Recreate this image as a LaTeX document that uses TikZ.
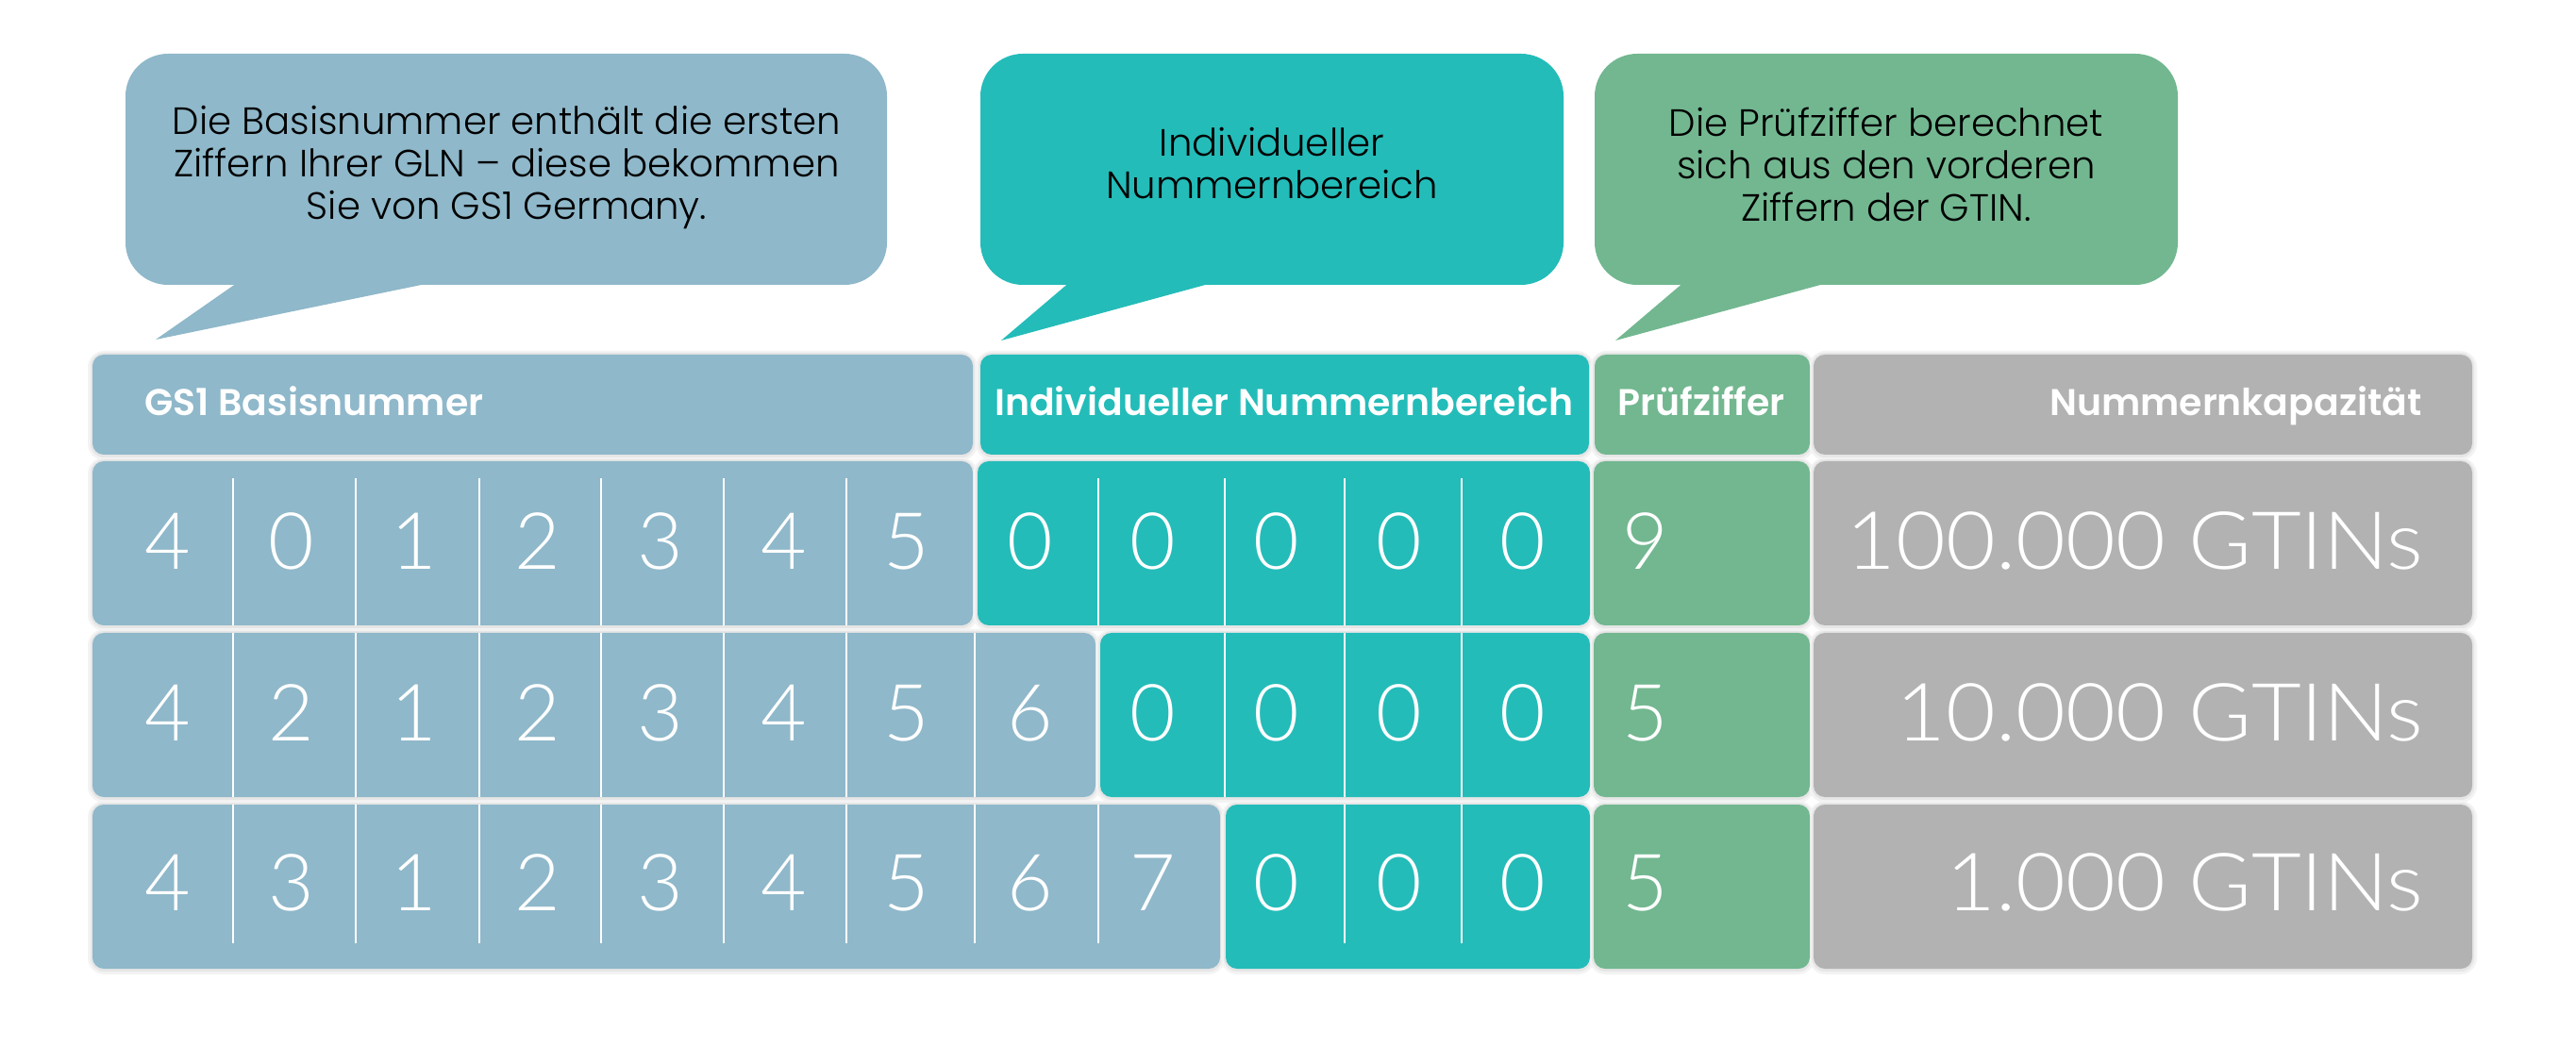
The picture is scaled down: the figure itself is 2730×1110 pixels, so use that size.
\documentclass[tikz,border=0pt]{standalone}
\usepackage{fontspec}
\setmainfont{Lato}
\IfFontExistsTF{Lato Light}{\newfontfamily\lightf{Lato Light}}{\newfontfamily\lightf{Lato}}
\IfFontExistsTF{Lato Light}{\newfontfamily\capf{Lato Light}[FakeStretch=1.07]}{\newfontfamily\capf{Lato}[FakeStretch=1.07]}
\IfFontExistsTF{Poppins Light}{\newfontfamily\bubf{Poppins Light}}{\newfontfamily\bubf{Lato}[FakeStretch=1.16]}
\IfFontExistsTF{Poppins SemiBold}{\newfontfamily\hdf{Poppins SemiBold}}{\newfontfamily\hdf{Lato Bold}[FakeStretch=1.18]}
\definecolor{gsblue}{HTML}{8FB8CA}
\definecolor{gsteal}{HTML}{23BCB9}
\definecolor{gsgreen}{HTML}{72B790}
\definecolor{gsgray}{HTML}{B1B2B1}
\definecolor{shA}{HTML}{F3F3F3}
\definecolor{shB}{HTML}{E6E6E6}
\newcommand\boxshadow[4]{%
  \fill[shA, rounded corners=5pt] (#1-5,#2-4) rectangle (#3+5,#4+6);
  \fill[shB, rounded corners=4pt] (#1-2,#2-2) rectangle (#3+2,#4+3);}
\newcommand\boxfill[5]{%
  \fill[#5, rounded corners=3.4pt] (#1,#2) rectangle (#3,#4);}
\begin{document}
\begin{tikzpicture}[x=0.01cm, y=-0.01cm,
  hd/.style={inner sep=0pt, text=white, font=\hdf\fontsize{11.2}{13}\selectfont},
  dg/.style={inner sep=0pt, text=white, font=\lightf\fontsize{23.8}{28}\selectfont},
  captext/.style={inner sep=0pt, text=white, font=\capf\fontsize{24.2}{28}\selectfont},
  bt/.style={inner sep=0pt, text=black, align=center, font=\bubf\fontsize{11.45}{12.8}\selectfont},
  sep/.style={draw=white, line width=0.3pt}]
\useasboundingbox[fill=white] (0,0) rectangle (2730,1110);

% speech bubbles
\fill[gsblue, rounded corners=12.8pt] (133,57) rectangle (940,302);
\fill[gsblue] (254,298) -- (165,360) -- (466,298) -- cycle;
\fill[gsteal, rounded corners=12.8pt] (1039,57) rectangle (1657,302);
\fill[gsteal] (1135,298) -- (1061,361) -- (1292,298) -- cycle;
\fill[gsgreen, rounded corners=12.8pt] (1690,57) rectangle (2308,302);
\fill[gsgreen] (1786,298) -- (1712,361) -- (1944,298) -- cycle;

\node[bt] (b1) at (537,178) {Die Basisnummer enthält die ersten\\Ziffern Ihrer GLN – diese bekommen\\Sie von GS1 Germany.};
\node[bt] (b2) at (1348,173) {Individueller\\Nummernbereich};
\node[bt] (b3) at (1999,174) {Die Prüfziffer berechnet\\sich aus den vorderen\\Ziffern der GTIN.};

% shadows
\boxshadow{98}{376}{1031}{482}
\boxshadow{1039}{376}{1684}{482}
\boxshadow{1690}{376}{1918}{482}
\boxshadow{1922}{376}{2620}{482}
\boxshadow{98}{489}{1031}{663}
\boxshadow{1036}{489}{1685}{663}
\boxshadow{98}{671}{1161}{845}
\boxshadow{1166}{671}{1685}{845}
\boxshadow{98}{853}{1293}{1027}
\boxshadow{1299}{853}{1685}{1027}
\foreach \yA/\yB in {489/663, 671/845, 853/1027}{
  \boxshadow{1689}{\yA}{1918}{\yB}
  \boxshadow{1922}{\yA}{2620}{\yB}}

% boxes
\boxfill{98}{376}{1031}{482}{gsblue}
\boxfill{1039}{376}{1684}{482}{gsteal}
\boxfill{1690}{376}{1918}{482}{gsgreen}
\boxfill{1922}{376}{2620}{482}{gsgray}
\boxfill{98}{489}{1031}{663}{gsblue}
\boxfill{1036}{489}{1685}{663}{gsteal}
\boxfill{98}{671}{1161}{845}{gsblue}
\boxfill{1166}{671}{1685}{845}{gsteal}
\boxfill{98}{853}{1293}{1027}{gsblue}
\boxfill{1299}{853}{1685}{1027}{gsteal}
\foreach \yA/\yB in {489/663, 671/845, 853/1027}{
  \boxfill{1689}{\yA}{1918}{\yB}{gsgreen}
  \boxfill{1922}{\yA}{2620}{\yB}{gsgray}}

% separators
\foreach \x in {247,377,508,637,767,897,1164,1298,1425,1549} \draw[sep] (\x,507) -- (\x,663);
\foreach \x in {247,377,508,637,767,897,1033,1298,1425,1549} \draw[sep] (\x,671) -- (\x,845);
\foreach \x in {247,377,508,637,767,897,1033,1164,1425,1549} \draw[sep] (\x,853) -- (\x,1000);

% header texts
\node[hd, anchor=base west] (h1) at (153,441) {GS1 Basisnummer};
\node[hd, anchor=base] (h2) at (1361,441) {Individueller Nummernbereich};
\node[hd, anchor=base] (h3) at (1803,441) {Prüfziffer};
\node[hd, anchor=base east] (h4) at (2567,441) {Nummernkapazität};

% digits
\foreach \d [count=\i from 0] in {4,0,1,2,3,4,5,0,0,0,0,0,9}
  \node[dg, anchor=base] (ra\i) at (178+130.5*\i,604) {\d};
\foreach \d [count=\i from 0] in {4,2,1,2,3,4,5,6,0,0,0,0,5}
  \node[dg, anchor=base] (rb\i) at (178+130.5*\i,785) {\d};
\foreach \d [count=\i from 0] in {4,3,1,2,3,4,5,6,7,0,0,0,5}
  \node[dg, anchor=base] (rc\i) at (178+130.5*\i,965) {\d};

\node[captext, anchor=base east] (ka) at (2569,604) {100.000 GTINs};
\node[captext, anchor=base east] (kb) at (2569,785) {10.000 GTINs};
\node[captext, anchor=base east] (kc) at (2569,965) {1.000 GTINs};
\end{tikzpicture}
\end{document}
